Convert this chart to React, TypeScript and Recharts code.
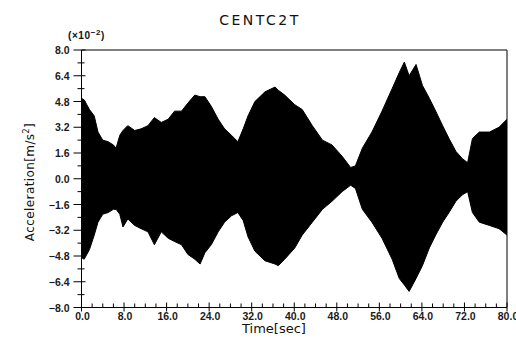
import { ComposedChart, Area, XAxis, YAxis, ReferenceLine } from "recharts";

// envelope of the acceleration record (x10^-2 m/s^2)
const times = [
  0, 0.5, 1.5, 2.4, 3.1, 4.0, 5.0, 6.0, 6.5, 7.2, 7.8, 8.7, 10.0, 11.2, 12.5,
  13.7, 15.0, 16.3, 17.5, 18.8, 20.0, 21.3, 22.3, 23.2, 24.4, 25.7, 26.9, 28.2,
  29.4, 30.4, 31.3, 32.6, 34.5, 36.4, 37.0, 38.2, 40.1, 41.5, 43.4, 45.3, 47.1,
  49.0, 50.6, 51.5, 52.8, 54.6, 56.5, 58.4, 59.75, 60.7, 61.6, 62.9, 64.1, 65.4,
  66.6, 67.9, 69.1, 70.4, 71.6, 72.6, 73.5, 74.8, 76.7, 78.5, 80,
];
const upper = [
  5.0, 4.9, 4.3, 3.9, 2.9, 2.4, 2.3, 2.1, 1.9, 2.7, 3.0, 3.3, 3.0, 3.1, 3.3,
  3.8, 3.5, 3.7, 4.2, 4.2, 4.7, 5.2, 5.1, 5.1, 4.5, 3.7, 3.1, 2.7,
  2.3, 3.1, 3.9, 4.8, 5.4, 5.7, 5.5, 5.2, 4.6, 4.3, 3.3, 2.4, 2.1,
  1.4, 0.7, 0.8, 1.9, 2.9, 4.2, 5.6, 6.6, 7.25, 6.4, 7.1, 5.8, 5.0,
  4.2, 3.3, 2.5, 1.7, 1.25, 1.0, 2.5, 2.9, 2.9, 3.2, 3.7,
];
const lower = [
  -4.9, -5.0, -4.4, -3.5, -2.7, -2.2, -2.1, -1.9, -1.9, -2.2, -3.0, -2.5, -2.9, -3.1, -3.3,
  -4.1, -3.3, -3.7, -3.9, -4.1, -4.7, -5.0, -5.3, -4.6, -4.1, -3.3, -2.7, -2.3,
  -2.1, -2.6, -3.6, -4.5, -5.1, -5.3, -5.4, -5.0, -4.3, -3.5, -2.7, -1.9, -1.4,
  -0.8, -0.4, -0.6, -1.9, -2.7, -3.7, -5.0, -6.2, -6.6, -7.0, -6.2, -5.4, -4.3,
  -3.5, -2.7, -2.1, -1.4, -1.0, -0.8, -2.1, -2.7, -2.9, -3.1, -3.5,
];

const yTicks = [
  -8, -7.2, -6.4, -5.6, -4.8, -4.0, -3.2, -2.4, -1.6, -0.8, 0, 0.8, 1.6, 2.4,
  3.2, 4.0, 4.8, 5.6, 6.4, 7.2, 8,
];
const xTicks = [
  0, 2, 4, 6, 8, 10, 12, 14, 16, 18, 20, 22, 24, 26, 28, 30, 32, 34, 36, 38, 40,
  42, 44, 46, 48, 50, 52, 54, 56, 58, 60, 62, 64, 66, 68, 70, 72, 74, 76, 78, 80,
];

const data = times.map((t, i) => ({ t, range: [lower[i], upper[i]] }));

const tickFont = { fontFamily: "Liberation Sans", fontSize: 10.5, fontWeight: 700, fill: "#1a1a1a" };

const fmt = (v: number) => (v < 0 ? "\u2212" + (-v).toFixed(1) : v.toFixed(1));

const YTick = (props: any) => {
  const { x, y, payload, index } = props;
  const major = index % 2 === 0;
  return (
    <g>
      <line x1={x - (major ? 8 : 4)} x2={x + (major ? 4 : 3)} y1={y} y2={y} stroke="#000" />
      {major && (
        <text x={x - 12} y={y} dy={4} textAnchor="end" {...tickFont}>
          {fmt(payload.value)}
        </text>
      )}
    </g>
  );
};

const XTick = (props: any) => {
  const { x, y, payload, index } = props;
  const major = index % 4 === 0;
  return (
    <g>
      <line x1={x} x2={x} y1={y - (major ? 5 : 4)} y2={y + (major ? 4 : 0)} stroke="#000" />
      {major && (
        <text x={x + 1} y={y + 12} textAnchor="middle" {...tickFont}>
          {payload.value.toFixed(1)}
        </text>
      )}
    </g>
  );
};

export default function App() {
  return (
    <div style={{ position: "absolute", left: 0, top: 0, width: 516, height: 353, background: "#fff" }}>
      <ComposedChart width={516} height={353} data={data} margin={{ top: 50, right: 9, left: 0, bottom: 0 }}>
        <XAxis
          dataKey="t"
          type="number"
          domain={[0, 80]}
          ticks={xTicks}
          interval={0}
          height={45.5}
          tickSize={0}
          tickMargin={0}
          stroke="#000"
          tick={(p: any) => <XTick {...p} />}
        />
        <YAxis
          domain={[-8, 8]}
          ticks={yTicks}
          interval={0}
          width={81.5}
          tickSize={0}
          tickMargin={0}
          stroke="#000"
          allowDataOverflow
          tick={(p: any) => <YTick {...p} />}
        />
        <ReferenceLine y={8} stroke="#000" />
        <ReferenceLine x={80} stroke="#000" />
        <Area
          dataKey="range"
          type="linear"
          fill="#000"
          fillOpacity={1}
          stroke="#000"
          strokeWidth={1}
          isAnimationActive={false}
        />
      </ComposedChart>
      <div
        style={{
          position: "absolute",
          left: 160,
          width: 200,
          top: 12,
          textAlign: "center",
          fontFamily: "DejaVu Sans",
          fontSize: 14,
          letterSpacing: 2.5,
          color: "#111",
        }}
      >
        CENTC2T
      </div>
      <div
        style={{
          position: "absolute",
          left: 68,
          top: 28,
          fontFamily: "Liberation Sans",
          fontSize: 10,
          fontWeight: 700,
          letterSpacing: 0.6,
          color: "#111",
        }}
      >
        (×10<sup style={{ fontSize: 8 }}>−2</sup>)
      </div>
      <div
        style={{
          position: "absolute",
          left: 27 - 80,
          top: 182 - 8,
          width: 160,
          height: 16,
          lineHeight: "16px",
          textAlign: "center",
          transform: "rotate(-90deg)",
          fontFamily: "DejaVu Sans",
          fontSize: 12,
          letterSpacing: 0.4,
          color: "#111",
        }}
      >
        Acceleration[m/s<sup style={{ fontSize: 8 }}>2</sup>]
      </div>
      <div
        style={{
          position: "absolute",
          left: 194,
          width: 160,
          top: 321,
          textAlign: "center",
          fontFamily: "DejaVu Sans",
          fontSize: 13,
          color: "#111",
        }}
      >
        Time[sec]
      </div>
    </div>
  );
}
